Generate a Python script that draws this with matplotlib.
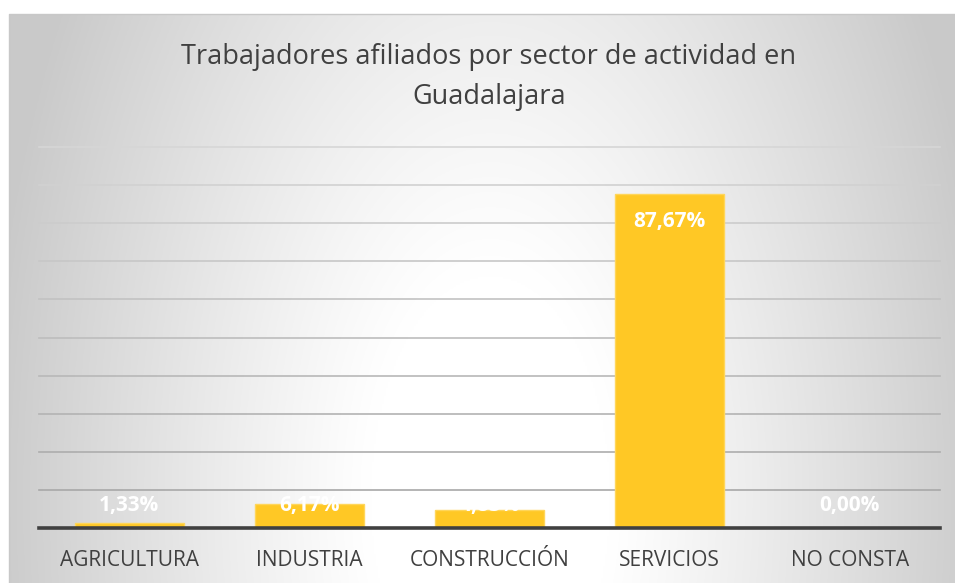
import numpy as np
import matplotlib.pyplot as plt

# data
categorias = ['AGRICULTURA', 'INDUSTRIA', 'CONSTRUCCIÓN', 'SERVICIOS', 'NO CONSTA']
porcentajes = [1.33, 6.17, 4.83, 87.67, 0.00]
titulo = 'Trabajadores afiliados por sector de actividad en\nGuadalajara'

W, H = 955, 583
fig = plt.figure(figsize=(W / 100, H / 100), dpi=100)

# chart area with grey gradient, white towards the bottom centre
bg = fig.add_axes([9 / W, 0, (W - 9) / W, (H - 14) / H])
nx, ny = 473, 285
xx, yy = np.meshgrid(np.linspace(9, W, nx), np.linspace(14, H, ny))
cx, cy = 490, 500
f = np.sqrt(((xx - cx) / 480) ** 2 + ((yy - cy) / 900) ** 2)
t = np.clip((f - 0.25) / 0.8, 0, 1)
v = 1 - 0.21 * t ** 1.1
bg.imshow(np.dstack([v, v, v]), extent=[0, 1, 0, 1], aspect='auto', origin='upper')
bg.set_xlim(0, 1)
bg.set_ylim(0, 1)
bg.axis('off')
fig.add_artist(plt.Line2D([9 / W, 9 / W, 1], [0, (H - 14) / H, (H - 14) / H],
                          color='#c8c8c8', lw=1, transform=fig.transFigure))

ax = fig.add_axes([39 / W, (H - 528) / H, 901 / W, (528 - 147) / H])
ax.patch.set_alpha(0)
x = np.arange(len(categorias))

# gridlines, darker towards the bottom
for g in range(10, 101, 10):
    shade = 0.64 + 0.2 * (g / 100)
    ax.axhline(g, color=(shade, shade, shade), lw=1.2, zorder=1, clip_on=False)

ax.bar(x, porcentajes, width=0.605, color='#FFC825', edgecolor='#FFD65A',
       linewidth=1, zorder=2)
ax.axhline(0, color='#404040', lw=2.6, zorder=3, clip_on=False)

for xi, p in zip(x, porcentajes):
    ytxt = max(p - 7.3, 6.0)
    ax.text(xi, ytxt, f'{p:.2f}%'.replace('.', ','), ha='center', va='center',
            color='white', fontsize=15, fontweight='bold', family='Open Sans',
            zorder=4)

ax.set_xlim(-0.5, len(categorias) - 0.5)
ax.set_ylim(0, 100)
ax.set_yticks([])
ax.set_xticks(x)
ax.set_xticklabels(categorias, family='Open Sans', fontsize=15, color='#404040')
ax.tick_params(axis='x', length=0, pad=16)
for s in ax.spines.values():
    s.set_visible(False)

fig.text(489 / W, 1 - 77 / H, titulo, ha='center', va='center', fontsize=19.5,
         family='Open Sans', color='#404040', linespacing=1.55)

fig.savefig('out.png', dpi=100)
